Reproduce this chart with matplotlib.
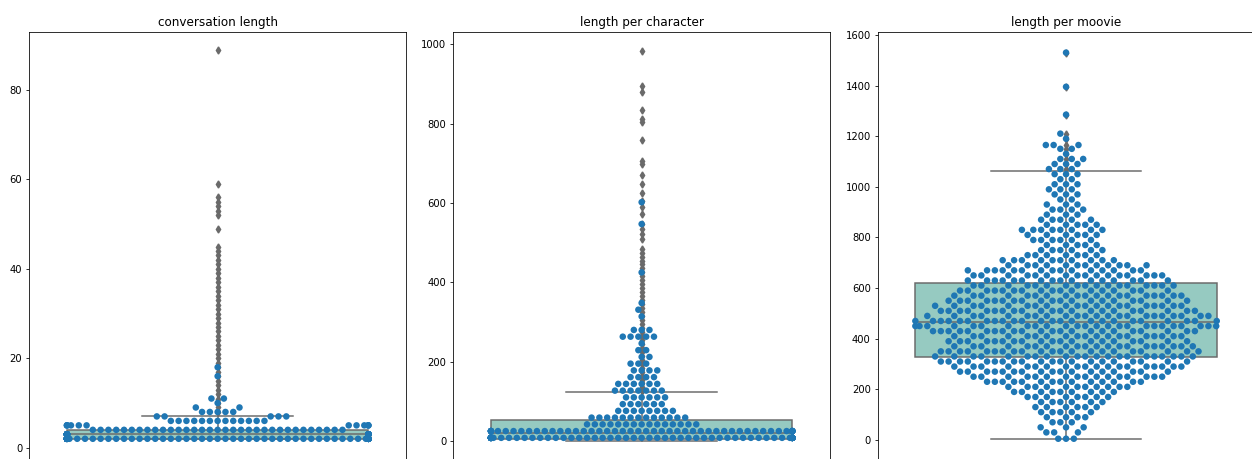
import numpy as np
import matplotlib

matplotlib.use("Agg")
import matplotlib.pyplot as plt
import seaborn as sns

# conversation length: swarm sample (value -> count) and box stats of full data
conv_values = [2, 3, 4, 5, 6, 7, 8, 9, 10, 11, 16, 18]
conv_counts = [110, 50, 33, 12, 13, 5, 5, 2, 1, 2, 1, 1]
conv_box = [2, 2, 3, 4, 7]  # whislo, q1, med, q3, whishi
conv_fliers = [8, 9, 10, 11, 12, 13, 14, 15, 16, 17, 18, 19, 20, 21, 22, 23,
               24, 25, 26, 27, 28, 29, 30, 31, 32, 33, 34, 35, 36, 37, 38, 39,
               40, 41, 42, 43, 44, 45, 49, 52, 53, 54, 55, 56, 59, 89]

# length per character
char_values = [8, 25, 42, 59, 76, 93, 110, 127, 144, 161, 178, 195, 212, 229,
               246, 263, 280, 314, 331, 348, 425, 547, 602]
char_counts = [75, 50, 15, 13, 8, 6, 6, 7, 6, 4, 4, 3, 2, 2,
               1, 5, 3, 1, 1, 1, 1, 1, 1]
char_box = [1, 5, 19, 53, 123]
char_fliers = [125, 135, 145, 155, 165, 175, 185, 195, 205, 215, 225, 235, 245,
               255, 265, 275, 285, 295, 305, 315, 325, 335, 345, 355, 365, 375,
               385, 395, 405, 415, 425, 435, 445, 455, 465, 475, 485, 510, 522,
               535, 547, 572, 590, 605, 624, 648, 670, 698, 705, 760, 805, 812,
               835, 880, 895, 983]

# length per moovie (all movies)
movie_values = [5, 30, 50, 70, 90, 110, 130, 150, 170, 190, 210, 230, 250, 270,
                290, 310, 330, 350, 370, 390, 410, 430, 450, 470, 490, 510, 530,
                550, 570, 590, 610, 630, 650, 670, 690, 710, 730, 750, 770, 790,
                810, 830, 850, 870, 890, 910, 930, 950, 970, 990, 1010, 1030,
                1050, 1070, 1090, 1110, 1130, 1150, 1165, 1190, 1210, 1285, 1395,
                1530]
movie_counts = [3, 3, 3, 3, 4, 5, 6, 6, 8, 9, 11, 14, 16, 17,
                19, 20, 21, 21, 20, 19, 19, 22, 25, 24, 22, 21, 20,
                19, 19, 17, 17, 16, 16, 15, 12, 10, 7, 6, 5, 6,
                6, 8, 5, 5, 3, 4, 3, 2, 3, 3, 3, 2,
                3, 3, 3, 3, 1, 2, 3, 1, 1, 1, 1,
                1]
movie_box = [5, 327, 467, 619, 1061]

titles = ["conversation length", "length per character", "length per moovie"]
ylims = [(-2.97, 93.04), (-50.4, 1031.8), (-83.0, 1612.6)]

BOX_COLOR = "#96cac1"
GRAY = "#6a6a6a"
DOT = "#1f77b4"
S = 0.72  # reference was drawn at 72 dpi, we draw at 100

W, H = 1252, 459
fig = plt.figure(figsize=(W / 100, H / 100), dpi=100)

panels = [
    (conv_values, conv_counts, conv_box, conv_fliers),
    (char_values, char_counts, char_box, char_fliers),
    (movie_values, movie_counts, movie_box,
     [v for v in movie_values if v > movie_box[4]]),
]
lefts = [29.3, 453.3, 877.7]
ax_w = 376.7
top_px, bottom_px = 31.7, 461.0

for i, (vals, counts, box, fliers) in enumerate(panels):
    ax = fig.add_axes([lefts[i] / W, (H - bottom_px) / H,
                       ax_w / W, (bottom_px - top_px) / H])
    stats = dict(whislo=box[0], q1=box[1], med=box[2], q3=box[3],
                 whishi=box[4], fliers=fliers)
    lw = 1.5 * S
    ax.bxp([stats], positions=[0], widths=0.8, patch_artist=True,
           boxprops=dict(facecolor=BOX_COLOR, edgecolor=GRAY, linewidth=lw),
           medianprops=dict(color=GRAY, linewidth=lw),
           whiskerprops=dict(color=GRAY, linewidth=lw),
           capprops=dict(color=GRAY, linewidth=lw),
           flierprops=dict(marker="d", markerfacecolor=GRAY,
                           markeredgecolor=GRAY, markersize=5 * S))

    # invisible edge keeps a small gap between neighbouring dots
    sample = np.repeat(vals, counts)
    sns.swarmplot(y=sample, ax=ax, color=DOT, size=4.7, linewidth=0.65,
                  edgecolor="none", zorder=3, warn_thresh=1.0)

    ax.set_xlim(-0.5, 0.5)
    ax.set_xticks([])
    ax.set_ylim(*ylims[i])
    ax.set_ylabel("")
    ax.set_title(titles[i], fontsize=12 * S, pad=6 * S)
    ax.tick_params(axis="y", labelsize=10 * S, length=3.5 * S,
                   width=0.8 * S, pad=3.5 * S)
    for sp in ax.spines.values():
        sp.set_linewidth(0.8 * S)

fig.savefig("out.png", dpi=100)
